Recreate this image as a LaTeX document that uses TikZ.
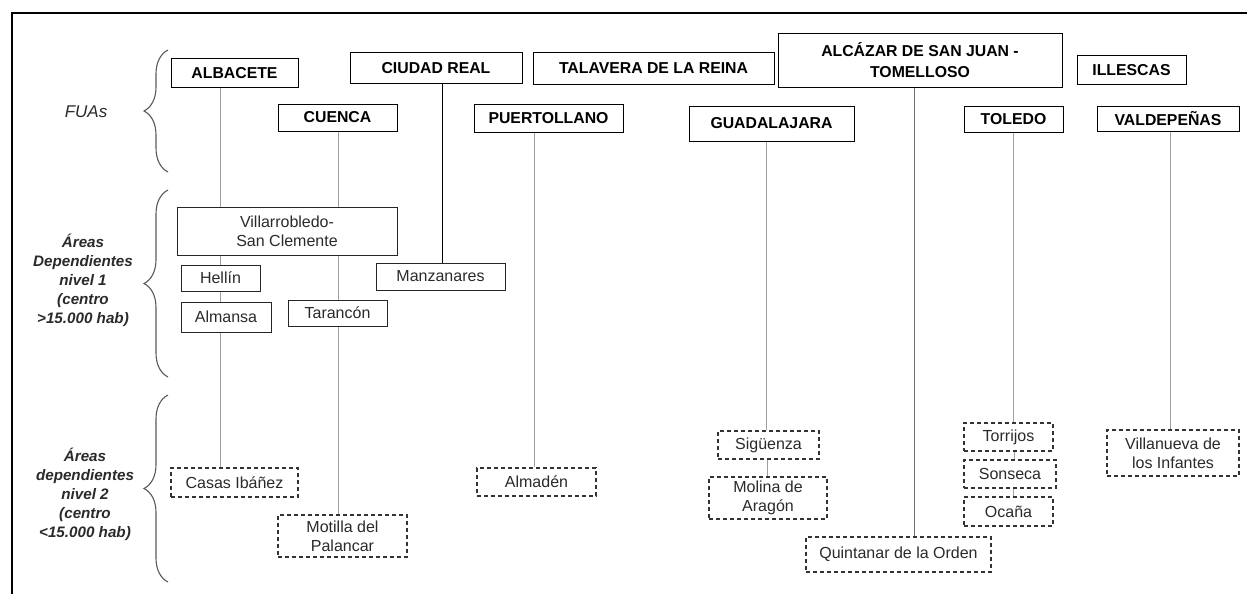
\documentclass[tikz,border=0pt]{standalone}
\usepackage{fontspec}
\setmainfont{Liberation Sans}
\usetikzlibrary{decorations.pathreplacing,backgrounds}
\definecolor{ln}{HTML}{A0A0A0}
\definecolor{lnd}{HTML}{707070}
\definecolor{tx}{HTML}{2A2A2A}
\begin{document}
\begin{tikzpicture}[x=1pt,y=-1pt,
  fua/.style={draw=black, line width=1pt, fill=white, inner sep=0pt,
    font=\fontsize{15.8}{21}\selectfont\bfseries, align=center},
  dep/.style={draw=black!85, line width=0.9pt, fill=white, inner sep=0pt,
    font=\fontsize{16}{19}\selectfont, text=tx, align=center},
  depb/.style={dep, dash pattern=on 4pt off 3pt, line width=1.1pt, draw=black!80},
  conn/.style={draw=ln, line width=0.9pt},
  lab/.style={font=\fontsize{15.2}{19}\selectfont\bfseries\itshape, align=center, text=tx},
  br/.style={decorate, decoration={brace, amplitude=24pt}, line width=1.1pt, draw=black!65}
]
\useasboundingbox (0,0) rectangle (1247,594);
\draw[line width=1.3pt] (1247,13) -- (12,13) -- (12,594);

% FUA boxes
\node[fua, minimum width=127, minimum height=28] (alb) at (234.5,73) {ALBACETE};
\node[fua, minimum width=172, minimum height=30] (cr) at (436,68) {CIUDAD REAL};
\node[fua, minimum width=241, minimum height=31] (tal) at (653.5,68.5) {TALAVERA DE LA REINA};
\node[fua, minimum width=284, minimum height=53] (alc) at (920,60.5) {ALCÁZAR DE SAN JUAN -\\TOMELLOSO};
\node[fua, minimum width=109, minimum height=28] (ill) at (1131.5,70) {ILLESCAS};
\node[fua, minimum width=119, minimum height=27] (cue) at (337.5,117.5) {CUENCA};
\node[fua, minimum width=149, minimum height=28] (pue) at (548.5,118) {PUERTOLLANO};
\node[fua, minimum width=165, minimum height=35] (gua) at (771.5,123.5) {GUADALAJARA};
\node[fua, minimum width=99, minimum height=26] (tol) at (1013.5,119) {TOLEDO};
\node[fua, minimum width=142, minimum height=25] (val) at (1168,118.5) {VALDEPEÑAS};

% level 1
\node[dep, minimum width=220, minimum height=48] (vil) at (287,231) {Villarrobledo-\\San Clemente};
\node[dep, minimum width=79, minimum height=26] (hel) at (220.5,278) {Hellín};
\node[dep, minimum width=90, minimum height=30] (alm) at (226,317) {Almansa};
\node[dep, minimum width=99, minimum height=26] (tar) at (337.5,313) {Tarancón};
\node[dep, minimum width=129, minimum height=27] (man) at (440.5,276.5) {Manzanares};

% level 2
\node[depb, minimum width=127, minimum height=29] (cas) at (234.5,482.5) {Casas Ibáñez};
\node[depb, minimum width=129, minimum height=42] (mot) at (342.5,536) {Motilla del\\Palancar};
\node[depb, minimum width=119, minimum height=28] (ald) at (536.5,482) {Almadén};
\node[depb, minimum width=101, minimum height=28] (sig) at (768.5,445) {Sigüenza};
\node[depb, minimum width=118, minimum height=42] (mol) at (768,498) {Molina de\\Aragón};
\node[depb, minimum width=185, minimum height=35] (qui) at (898.5,554.5) {Quintanar de la Orden};
\node[depb, minimum width=89, minimum height=28] (tor) at (1008.5,437) {Torrijos};
\node[depb, minimum width=92, minimum height=28] (son) at (1010,474) {Sonseca};
\node[depb, minimum width=89, minimum height=29] (oca) at (1008.5,511.5) {Ocaña};
\node[depb, minimum width=132, minimum height=46] (vin) at (1173,453) {Villanueva de\\los Infantes};

% connector x positions
\coordinate (xalb) at (220,0);
\coordinate (xcue) at (338,0);
\coordinate (xcr) at (442,0);
\coordinate (xpue) at (534,0);
\coordinate (xgua) at (766,0);
\coordinate (xgua2) at (767,0);
\coordinate (xalc) at (914,0);
\coordinate (xtol) at (1013,0);
\coordinate (xtol2) at (1014,0);
\coordinate (xval) at (1170,0);

\begin{scope}[on background layer]
\draw[conn] (alb.south -| xalb) -- (cas.north -| xalb);
\draw[conn] (cue.south -| xcue) -- (mot.north -| xcue);
\draw[line width=1pt, draw=black] (cr.south -| xcr) -- (man.north -| xcr);
\draw[conn] (pue.south -| xpue) -- (ald.north -| xpue);
\draw[conn] (gua.south -| xgua) -- (sig.north -| xgua);
\draw[conn] (sig.south -| xgua2) -- (mol.north -| xgua2);
\draw[conn, draw=lnd] (alc.south -| xalc) -- (qui.north -| xalc);
\draw[conn] (tol.south -| xtol) -- (tor.north -| xtol);
\draw[conn] (tor.south -| xtol2) -- (son.north -| xtol2);
\draw[conn] (son.south -| xtol) -- (oca.north -| xtol);
\draw[conn] (val.south -| xval) -- (vin.north -| xval);
\end{scope}

% braces and labels
\coordinate (b1a) at (168,172); \coordinate (b1b) at (168,50);
\coordinate (b2a) at (168,377); \coordinate (b2b) at (168,190);
\coordinate (b3a) at (168,582); \coordinate (b3b) at (168,395);
\draw[br] (b1a) -- (b1b);
\draw[br] (b2a) -- (b2b);
\draw[br] (b3a) -- (b3b);

\node[font=\fontsize{17}{19}\selectfont\itshape, text=tx] (lfua) at (86,112) {FUAs};
\node[lab] (l1) at (83,280) {Áreas\\Dependientes\\nivel 1\\(centro\\>15.000 hab)};
\node[lab] (l2) at (85,494) {Áreas\\dependientes\\nivel 2\\(centro\\<15.000 hab)};
\end{tikzpicture}
\end{document}
